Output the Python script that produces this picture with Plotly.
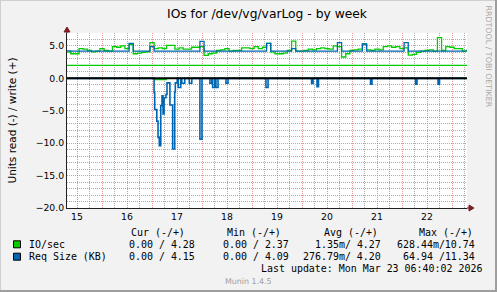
import pandas as pd
import plotly.graph_objects as go

# ---------------- data ----------------
write_start = "2026-03-15 07:00"      # first sample, 2-hour steps
write_step_hours = 2
io_write = [4.1, 3.8, 3.8, 4.6, 4.5, 4.3, 4.1, 4.2, 4.6, 4.3,
            4.2, 4.9, 4.8, 5.0, 4.6, 5.2, 3.8, 3.9, 4.0, 4.1,
            5.5, 4.6, 4.7, 4.6, 5.1, 5.1, 4.5, 4.7, 4.5, 4.5,
            4.8, 4.8, 4.9, 3.55, 3.8, 3.9, 4.3, 4.4, 4.6, 4.2,
            4.3, 4.3, 4.7, 4.7, 4.6, 4.9, 4.6, 4.8, 5.4, 4.1,
            3.8, 3.8, 3.9, 4.3, 5.75, 4.2, 4.2, 4.3, 4.5, 4.4,
            4.6, 4.7, 4.6, 4.5, 5.0, 4.9, 3.3, 3.8, 4.3, 4.4,
            4.5, 5.3, 4.4, 4.3, 4.5, 4.4, 4.9, 5.0, 4.8, 4.9,
            4.6, 4.7, 3.6, 3.7, 4.0, 4.2, 4.3, 4.4, 4.2, 6.3,
            4.3, 4.9, 4.8, 4.6, 4.6, 4.2, 4.4]
req_write = [4.25, 4.2, 4.2, 4.2, 4.2, 4.2, 4.2, 4.2, 4.2, 4.2,
             4.2, 4.2, 4.2, 4.2, 4.2, 5.4, 4.2, 4.2, 4.2, 4.2,
             4.9, 4.2, 4.2, 4.2, 4.2, 4.2, 4.2, 4.2, 4.2, 4.2,
             4.2, 4.2, 5.7, 4.2, 4.2, 4.2, 4.2, 4.2, 4.2, 4.2,
             4.2, 4.2, 4.2, 4.2, 4.2, 4.2, 4.2, 4.2, 5.4, 4.2,
             4.2, 4.2, 4.2, 4.2, 4.6, 4.2, 4.2, 4.2, 4.2, 4.2,
             4.2, 4.2, 4.2, 4.2, 4.2, 5.5, 4.2, 4.2, 4.2, 4.2,
             4.2, 5.3, 4.2, 4.2, 4.2, 4.2, 4.2, 4.2, 4.2, 4.2,
             4.2, 5.5, 4.2, 4.2, 4.2, 4.2, 4.2, 4.2, 4.2, 4.2,
             4.2, 4.2, 4.2, 4.2, 4.2, 4.2, 4.2]
io_warn = 2.0

read_base = "2026-03-16 00:00"         # read-side change points, hours from base
read_hours = [-17, 25.0, 25.3, 26.3, 26.9, 27.5, 28.2, 28.8, 29.3, 29.8,
              30.7, 31.2, 32.6, 33.9, 34.9, 35.2, 36.1, 36.6, 37.8, 38.3,
              39.7, 41.9, 43.1, 47.0, 48.0, 51.8, 52.7, 53.1, 54.1, 54.7,
              55.7, 59.5, 60.5, 78.7, 79.7, 100.6, 101.3, 103.2, 103.9, 128.9,
              129.6, 150.5, 151.2, 161.3, 162.0, 175.0]
read_req = [0, -2.2, -4.8, -6.6, -9.1, -10.4, -4.2, -2.7, -5.5, -3.0,
            -2.5, -0.7, -4.1, -10.9, -2.1, -0.7, 0, -1.4, 0, -0.75,
            0, -0.75, 0, -9.4, 0, -0.75, 0, -1.4, 0, -1.4,
            0, -0.75, 0, -1.4, 0, -0.8, 0, -1.3, 0, -0.9,
            0, -0.9, 0, -0.9, 0, 0]
io_read_hours = [-17, 25.0, 31.0, 175.0]
io_read = [0, -0.2, 0, 0]

x_range = ["2026-03-15 07:12", "2026-03-23 07:12"]
y_range = [-20, 7]

series_names = ["IO/sec", "Req Size (KB)"]
series_colors = ["#00CC00", "#0066B3"]
col_headers = ["Cur (-/+)", "Min (-/+)", "Avg (-/+)", "Max (-/+)"]
stat_cur = ["0.00 / 4.28", "0.00 / 4.15"]
stat_min = ["0.00 / 2.37", "0.00 / 4.09"]
stat_avg = ["1.35m/ 4.27", "276.79m/ 4.20"]
stat_max = ["628.44m/10.74", "64.94 /11.34"]
title_text = "IOs for /dev/vg/varLog - by week"
y_title = "Units read (-) / write (+)"
last_update = "Last update: Mon Mar 23 06:40:02 2026"
version_text = "Munin 1.4.5"
watermark = "RRDTOOL / TOBI OETIKER"

# ---------------- geometry helpers ----------------
W, H = 497, 292
PL, PR, PT, PB = 67, 467, 33, 208


def px(x):
    return (x - PL) / (PR - PL)


def py(y):
    return (PB - y) / (PB - PT)


SANS = "DejaVu Sans"
MONO = "DejaVu Sans Mono"
MAJOR = "rgba(222,79,79,0.6)"
MINOR = "rgba(143,143,143,0.75)"

wt = pd.date_range(write_start, periods=len(io_write), freq=f"{write_step_hours}h")
rt = pd.Timestamp(read_base) + pd.to_timedelta(read_hours, unit="h")
it = pd.Timestamp(read_base) + pd.to_timedelta(io_read_hours, unit="h")

fig = go.Figure()
fig.add_trace(go.Scatter(x=list(x_range), y=[io_warn, io_warn], mode="lines",
                         line=dict(color="#00CC00", width=1.3), hoverinfo="skip"))
fig.add_trace(go.Scatter(x=it, y=io_read, mode="lines", line_shape="hv",
                         line=dict(color="#00CC00", width=1.3)))
fig.add_trace(go.Scatter(x=rt, y=read_req, mode="lines", line_shape="hv",
                         line=dict(color="#0066B3", width=1.6)))
fig.add_trace(go.Scatter(x=list(x_range), y=[0, 0], mode="lines",
                         line=dict(color="#000000", width=2), hoverinfo="skip"))
fig.add_trace(go.Scatter(x=wt, y=io_write, mode="lines", line_shape="hv",
                         line=dict(color="#00CC00", width=1.3)))
fig.add_trace(go.Scatter(x=wt, y=req_write, mode="lines", line_shape="hv",
                         line=dict(color="#0066B3", width=1.3)))

ann = []
ann.append(dict(x=0.5, y=py(13.5), xref="paper", yref="paper", text=title_text,
                showarrow=False, font=dict(family=SANS, size=12.3, color="#000"),
                xanchor="center", yanchor="middle"))
ann.append(dict(x=px(11), y=py(120.5), xref="paper", yref="paper", text=y_title,
                textangle=-90, showarrow=False,
                font=dict(family=SANS, size=10.5, color="#000"),
                xanchor="center", yanchor="middle"))
ann.append(dict(x=px(488.5), y=py(56), xref="paper", yref="paper", text=watermark,
                textangle=90, showarrow=False,
                font=dict(family=SANS, size=7.9, color="#A8A8A8"),
                xanchor="center", yanchor="middle"))

hdr_right = [186.7, 283.3, 380, 475]
col_right = [196.7, 291, 383, 476.7]
for h, xr in zip(col_headers, hdr_right):
    ann.append(dict(x=px(xr), y=py(232.7), xref="paper", yref="paper", text=h,
                    showarrow=False, xanchor="right", yanchor="middle",
                    font=dict(family=MONO, size=9.95, color="#000")))
row_y = [244.3, 256.7]
for i, name in enumerate(series_names):
    ann.append(dict(x=px(26.5), y=py(row_y[i]), xref="paper", yref="paper", text=name,
                    showarrow=False, xanchor="left", yanchor="middle",
                    font=dict(family=MONO, size=9.95, color="#000")))
    for vals, xr in zip([stat_cur, stat_min, stat_avg, stat_max], col_right):
        ann.append(dict(x=px(xr), y=py(row_y[i]), xref="paper", yref="paper",
                        text=vals[i].replace(" ", "&nbsp;"),
                        showarrow=False, xanchor="right", yanchor="middle",
                        font=dict(family=MONO, size=9.95, color="#000")))
ann.append(dict(x=px(483.5), y=py(268.7), xref="paper", yref="paper", text=last_update,
                showarrow=False, xanchor="right", yanchor="middle",
                font=dict(family=MONO, size=9.95, color="#000")))
ann.append(dict(x=px(248.5), y=py(281), xref="paper", yref="paper", text=version_text,
                showarrow=False, xanchor="center", yanchor="middle",
                font=dict(family=SANS, size=7.9, color="#A0A0A0")))

shapes = []
for i, c in enumerate(series_colors):
    yc = row_y[i]
    shapes.append(dict(type="rect", xref="paper", yref="paper",
                       x0=px(13.5), x1=px(20.5), y0=py(yc - 3.5), y1=py(yc + 3.5),
                       fillcolor=c, line=dict(color="#000", width=1)))
# axis extensions and arrows
AX = "#1F1F1F"
AR = "#801F1F"
shapes.append(dict(type="line", xref="paper", yref="paper", x0=px(PR), x1=px(470),
                   y0=py(PB), y1=py(PB), line=dict(color=AX, width=1)))
shapes.append(dict(type="line", xref="paper", yref="paper", x0=px(PL), x1=px(PL),
                   y0=py(PT), y1=py(30), line=dict(color=AX, width=1)))
shapes.append(dict(type="path", xref="paper", yref="paper",
                   path=f"M {px(469)} {py(205)} L {px(474)} {py(208)} L {px(469)} {py(211)} Z",
                   fillcolor=AR, line=dict(color=AR, width=1)))
shapes.append(dict(type="path", xref="paper", yref="paper",
                   path=f"M {px(64)} {py(32)} L {px(67)} {py(27)} L {px(70)} {py(32)} Z",
                   fillcolor=AR, line=dict(color=AR, width=1)))
# 3D frame
shapes.append(dict(type="line", xref="paper", yref="paper", x0=px(0), x1=px(W),
                   y0=py(0.5), y1=py(0.5), line=dict(color="#CFCFCF", width=1)))
shapes.append(dict(type="line", xref="paper", yref="paper", x0=px(0.5), x1=px(0.5),
                   y0=py(0), y1=py(H), line=dict(color="#CFCFCF", width=1)))
shapes.append(dict(type="line", xref="paper", yref="paper", x0=px(0), x1=px(W),
                   y0=py(H - 1), y1=py(H - 1), line=dict(color="#9E9E9E", width=2)))
shapes.append(dict(type="line", xref="paper", yref="paper", x0=px(W - 1), x1=px(W - 1),
                   y0=py(0), y1=py(H), line=dict(color="#9E9E9E", width=2)))

fig.update_layout(
    width=W, height=H,
    margin=dict(l=PL, r=W - PR, t=PT, b=H - PB, pad=0),
    paper_bgcolor="#F2F2F2", plot_bgcolor="#FFFFFF",
    showlegend=False,
    annotations=ann, shapes=shapes,
    xaxis=dict(type="date", range=x_range, tick0="2026-03-15", dtick=86400000,
               ticklabelmode="period", tickformat="%d",
               showgrid=True, gridcolor=MAJOR, griddash="1px,1px", gridwidth=1,
               minor=dict(dtick=6 * 3600000, showgrid=True, gridcolor=MINOR,
                          griddash="1px,1px", gridwidth=1),
               showline=True, linecolor=AX, linewidth=1, zeroline=False,
               ticks="", tickfont=dict(family=SANS, size=9.3, color="#000"),
               fixedrange=True),
    yaxis=dict(range=y_range, tick0=0, dtick=5, tickformat=".1f",
               showgrid=True, gridcolor=MAJOR, griddash="1px,1px", gridwidth=1,
               minor=dict(dtick=1, showgrid=True, gridcolor=MINOR,
                          griddash="1px,1px", gridwidth=1),
               showline=True, linecolor=AX, linewidth=1, zeroline=False,
               ticks="", tickfont=dict(family=SANS, size=9.3, color="#000"),
               fixedrange=True),
)

fig.write_html("out.html")
